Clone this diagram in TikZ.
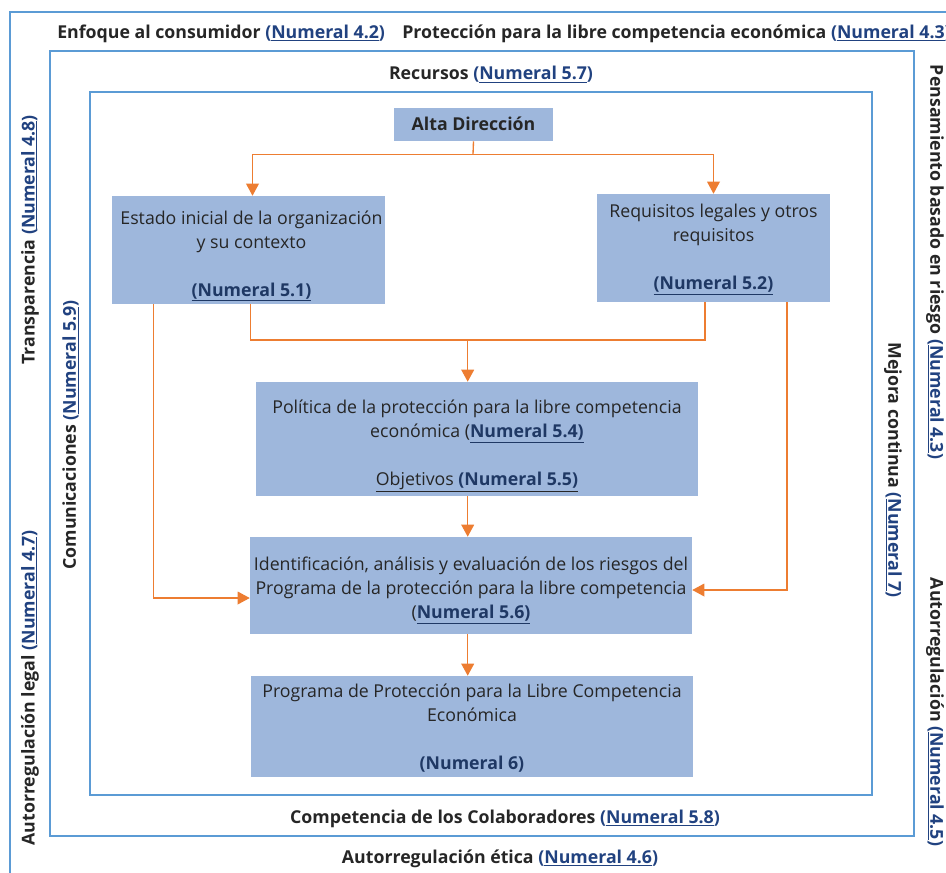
\documentclass[tikz,border=0pt]{standalone}
\usepackage{fontspec}
\setmainfont{Open Sans}
\usetikzlibrary{arrows.meta,calc}
\definecolor{frameblue}{RGB}{91,155,213}
\definecolor{boxfill}{RGB}{158,183,220}
\definecolor{txt}{RGB}{38,38,38}
\definecolor{navy}{RGB}{31,56,100}
\definecolor{linkblue}{RGB}{33,66,128}
\definecolor{arrowc}{RGB}{237,125,49}
\newcommand{\fnum}[1]{\textcolor{linkblue}{(\underline{Numeral #1})}}
\newcommand{\bnum}[1]{\textcolor{navy}{\textbf{\underline{#1}}}}
\begin{document}
\begin{tikzpicture}[x=0.75pt,y=-0.75pt,
  frame/.style={draw=frameblue,line width=1.5pt},
  flowbox/.style={fill=boxfill,draw=none,inner sep=0pt},
  boxtxt/.style={text=txt,align=center,inner sep=0pt,font=\fontsize{13.3}{18}\selectfont},
  lbl/.style={text=txt,inner sep=0pt,font=\fontsize{13.3}{15}\selectfont\bfseries},
  conn/.style={draw=arrowc,line width=1pt},
  arr/.style={conn,-{Triangle[width=9.5pt,length=9pt]}}]
\useasboundingbox (0,0) rectangle (946,872);
\clip (0,0) rectangle (946,872);
\fill[white] (0,0) rectangle (946,872);
% frames
\draw[frame] (9.5,11.5) rectangle (1000,1000);
\draw[frame] (49.5,51) rectangle (914,836);
\draw[frame] (89.5,92) rectangle (872,794.5);
% frame labels
\node[lbl,anchor=west] (l42) at (57,33.5) {Enfoque al consumidor \fnum{4.2}};
\node[lbl,anchor=west] (l43) at (402,33.5) {Protección para la libre competencia económica \textcolor{linkblue}{(\underline{Numeral 4.3})}};
\node[lbl] (l57) at (491,74.5) {Recursos \fnum{5.7}};
\node[lbl,rotate=90] (l48) at (30,240) {Transparencia \fnum{4.8}};
\node[lbl,rotate=90] (l47) at (30,688) {Autorregulación legal \fnum{4.7}};
\node[lbl,rotate=90] (l59) at (70.5,435) {Comunicaciones \fnum{5.9}};
\node[lbl,rotate=-90] (l7) at (893,470) {Mejora continua \fnum{7}};
\node[lbl,rotate=-90] (l43b) at (935,262) {Pensamiento basado en riesgo \fnum{4.3}};
\node[lbl,rotate=-90] (l45) at (935,712) {Autorregulación \fnum{4.5}};
\node[lbl] (l58) at (505,818.5) {Competencia de los Colaboradores \fnum{5.8}};
\node[lbl] (l46) at (500,858.5) {Autorregulación ética \fnum{4.6}};
% boxes
\node[flowbox,minimum width=159*0.75pt,minimum height=33*0.75pt] (alta) at (473.5,124.5) {};
\node[text=txt,inner sep=0pt,font=\fontsize{13.3}{15}\selectfont\bfseries] (altaT) at ($(alta.center)+(0,-1)$) {Alta Dirección};
\node[flowbox,minimum width=273*0.75pt,minimum height=108*0.75pt] (estado) at (248.5,250) {};
\node[boxtxt] (estadoT) at ($(estado.center)+(3,6)$) {Estado inicial de la organización\\y su contexto\\[18pt]\bnum{(Numeral 5.1)}};
\node[flowbox,minimum width=233*0.75pt,minimum height=108*0.75pt] (req) at (713.5,248) {};
\node[boxtxt] (reqT) at ($(req.center)+(0,1.5)$) {Requisitos legales y otros\\requisitos\\[18pt]\bnum{(Numeral 5.2)}};
\node[flowbox,minimum width=442*0.75pt,minimum height=114*0.75pt] (pol) at (477,439) {};
\node[boxtxt] (polT) at ($(pol.center)+(0,7)$) {Política de la protección para la libre competencia\\económica (\bnum{Numeral 5.4)}\\[18pt]\underline{Objetivos \textcolor{navy}{\textbf{(Numeral 5.5)}}}};
\node[flowbox,minimum width=442*0.75pt,minimum height=97*0.75pt] (ident) at (471,585.5) {};
\node[boxtxt] (identT) at ($(ident.center)+(0,5)$) {Identificación, análisis y evaluación de los riesgos del\\Programa de la protección para la libre competencia\\(\bnum{Numeral 5.6)}};
\node[flowbox,minimum width=442*0.75pt,minimum height=101*0.75pt] (prog) at (472,726.5) {};
\node[boxtxt] (progT) at ($(prog.center)+(0,2)$) {Programa de Protección para la Libre Competencia\\Económica\\[18pt]\textcolor{navy}{\textbf{(Numeral 6)}}};
% connectors
\coordinate (split) at (473,154.5);
\coordinate (merge) at (467.7,340);
\draw[conn] (alta.south) -- (split);
\draw[arr] (split) -| ($(estado.north)+(4,0)$);
\draw[arr] (split) -| (req.north);
\draw[conn] ($(estado.south)+(2.2,0)$) |- (merge);
\draw[conn] ($(req.south)+(-8.5,0)$) |- (merge);
\draw[arr] (merge) -- (merge |- pol.north);
\draw[arr] (merge |- pol.south) -- (merge |- ident.north);
\draw[arr] (merge |- ident.south) -- (merge |- prog.north);
\draw[arr] ($(estado.south)+(-95.2,0)$) |- ($(ident.west)+(0,12.5)$);
\draw[arr] ($(req.south)+(73.5,0)$) |- ($(ident.east)+(0,4.5)$);
\end{tikzpicture}
\end{document}
